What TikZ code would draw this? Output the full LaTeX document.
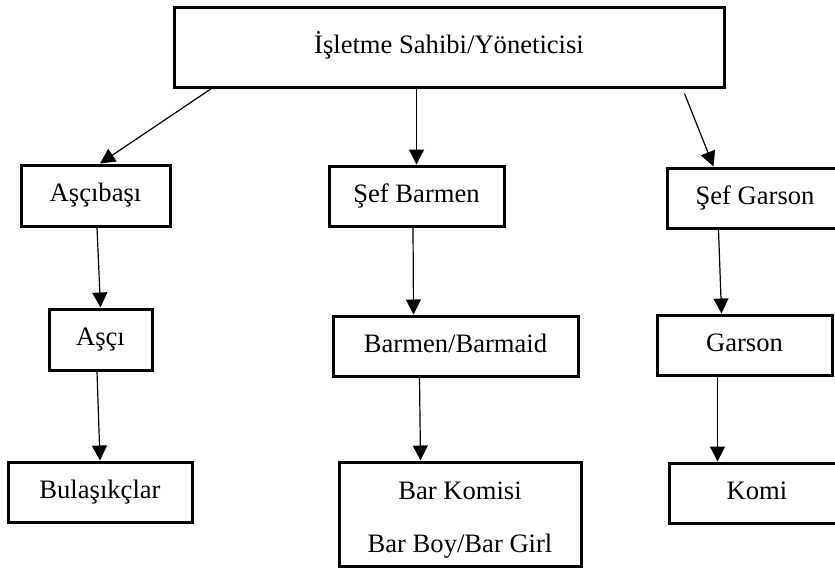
\documentclass[tikz,border=0pt]{standalone}
\usepackage{fontspec}
\setmainfont{Liberation Serif}
\usetikzlibrary{arrows.meta,positioning}
\definecolor{ink}{HTML}{000000}
\tikzset{
  rolebox/.style={
    draw=ink, line width=1.5pt,
    align=center, inner sep=0pt,
    font=\fontsize{13.3}{16}\selectfont
  },
  onerole/.style={rolebox, text height=9pt, text depth=3pt},
  linkarrow/.style={draw=ink, line width=0.6pt, -{Triangle[width=7.5pt,length=7.5pt]}}
}

\begin{document}
\begin{tikzpicture}[x=0.5pt,y=-0.5pt]
  \useasboundingbox (0,0) rectangle (835,569);
  \clip (0,0) rectangle (835,569);
  \node[onerole,minimum width=275pt,minimum height=40pt] (owner) at (449,47) {İşletme Sahibi/Yöneticisi};
  \node[onerole,minimum width=74.5pt,minimum height=30.5pt] (headcook) at (95.5,195.5) {Aşçıbaşı};
  \node[onerole,minimum width=87.5pt,minimum height=30pt] (headbar) at (416.5,196) {Şef Barmen};
  \node[onerole,minimum width=88pt,minimum height=30pt] (headwaiter) at (755,198) {Şef Garson};
  \node[onerole,minimum width=51.5pt,minimum height=30.5pt] (cook) at (100.5,339.5) {Aşçı};
  \node[onerole,minimum width=122.5pt,minimum height=30pt] (barman) at (455.5,346) {Barmen/Barmaid};
  \node[onerole,minimum width=87.5pt,minimum height=30pt] (waiter) at (744.5,345) {Garson};
  \node[onerole,minimum width=92pt,minimum height=30pt] (dishwash) at (100,492) {Bulaşıkçlar};
  \node[rolebox,minimum width=121pt,minimum height=52pt] (barcommis) at (460,514)
    {\rule{0pt}{14.4pt}Bar Komisi\\[10.5pt]Bar Boy/Bar Girl};
  \node[onerole,minimum width=88pt,minimum height=30pt] (commis) at (757,493) {Komi};

  \draw[linkarrow] ([xshift=19.5pt]owner.south west) -- ([xshift=2.25pt]headcook.north);
  \draw[linkarrow] (headbar.north |- owner.south) -- (headbar.north);
  \draw[linkarrow] ([xshift=-20.5pt,yshift=-2.5pt]owner.south east) -- ([xshift=24pt]headwaiter.north west);
  \draw[linkarrow] ([xshift=0.75pt]headcook.south) -- (cook.north);
  \draw[linkarrow] ([xshift=-1.75pt]cook.south) -- (dishwash.north);
  \draw[linkarrow] ([xshift=-1.75pt]headbar.south) -- ([xshift=41pt]barman.north west);
  \draw[linkarrow] ([xshift=44pt]barman.south west) -- ([xshift=41.5pt]barcommis.north west);
  \draw[linkarrow] ([xshift=26.5pt]headwaiter.south west) -- ([xshift=33pt]waiter.north west);
  \draw[linkarrow] ([xshift=31pt]waiter.south west) -- ([xshift=25pt]commis.north west);
\end{tikzpicture}
\end{document}
